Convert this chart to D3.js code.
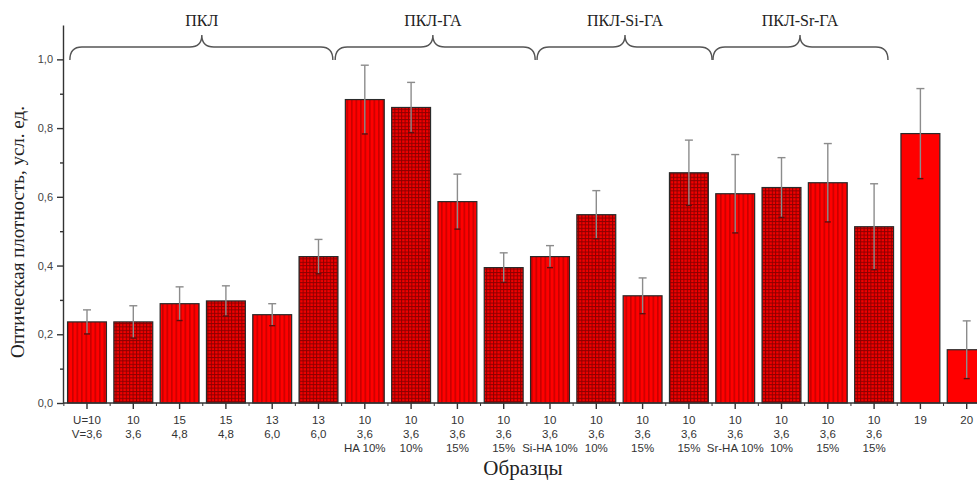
<!DOCTYPE html>
<html>
<head>
<meta charset="utf-8">
<script src="https://cdn.jsdelivr.net/npm/d3@7/dist/d3.min.js"></script>
<style>
  body { margin: 0; background: #fff; }
  svg { display: block; }
</style>
</head>
<body>
<div id="chart"></div>
<script>
// values
var samples = ["s1","s2","s3","s4","s5","s6","s7","s8","s9","s10","s11","s12","s13","s14","s15","s16","s17","s18","s19","s20"];
var density = [0.236,0.236,0.289,0.297,0.257,0.426,0.883,0.860,0.586,0.394,0.426,0.548,0.312,0.670,0.609,0.627,0.641,0.513,0.784,0.155];
var errors  = [0.035,0.047,0.049,0.044,0.032,0.050,0.100,0.073,0.080,0.043,0.032,0.070,0.052,0.095,0.114,0.087,0.114,0.125,0.131,0.084];
var fills   = ["stripe","grid","stripe","grid","stripe","grid","stripe","grid","stripe","grid","stripe","grid","stripe","grid","stripe","grid","stripe","grid","solid","solid"];
var labelU  = ["U=10","10","15","15","13","13","10","10","10","10","10","10","10","10","10","10","10","10","19","20"];
var labelV  = ["V=3,6","3,6","4,8","4,8","6,0","6,0","3,6","3,6","3,6","3,6","3,6","3,6","3,6","3,6","3,6","3,6","3,6","3,6","",""];
var labelC  = ["","","","","","","HA 10%","10%","15%","15%","Si-HA 10%","10%","15%","15%","Sr-HA 10%","10%","15%","15%","",""];
var yMajor  = [0, 0.2, 0.4, 0.6, 0.8, 1.0];
var yMinor  = [0.1, 0.3, 0.5, 0.7, 0.9];
// groups over the bars, brace ends in bar-index units
var groupNames = ["ПКЛ", "ПКЛ-ГА", "ПКЛ-Si-ГА", "ПКЛ-Sr-ГА"];
var groupFrom  = [-0.37, 5.36, 9.72, 13.52];
var groupTo    = [5.31, 9.68, 13.50, 17.30];
var groupPeak  = [2.48, 7.47, 11.62, 15.40];

var W = 977, H = 481;
var svg = d3.select("#chart").append("svg").attr("width", W).attr("height", H);

var x = d3.scaleBand().domain(samples).range([63.85, 989.85]).paddingInner(0.16).paddingOuter(0.08);
var y = d3.scaleLinear().domain([0, 1.1]).range([403, 25]);
var step = x.step();
var xi = function(i){ return x(samples[0]) + x.bandwidth()/2 + i*step; };

var defs = svg.append("defs");
var st = defs.append("pattern").attr("id","stripe").attr("patternUnits","userSpaceOnUse")
  .attr("width",4.5).attr("height",10);
st.append("rect").attr("width",4.5).attr("height",10).attr("fill","#ff0000");
st.append("rect").attr("x",0).attr("width",1.6).attr("height",10).attr("fill","#c80000");
var gr = defs.append("pattern").attr("id","grid").attr("patternUnits","userSpaceOnUse")
  .attr("width",3.4).attr("height",3.4);
gr.append("rect").attr("width",3.4).attr("height",3.4).attr("fill","#f20000");
gr.append("rect").attr("width",1).attr("height",3.4).attr("fill","#8a0000");
gr.append("rect").attr("width",3.4).attr("height",1).attr("fill","#8a0000");

// bars
svg.append("g").selectAll("rect").data(samples).join("rect")
  .attr("x", function(d){ return x(d); })
  .attr("y", function(d,i){ return y(density[i]); })
  .attr("width", x.bandwidth())
  .attr("height", function(d,i){ return y(0) - y(density[i]); })
  .attr("fill", function(d,i){ return fills[i] == "solid" ? "#ff0000" : "url(#" + fills[i] + ")"; })
  .attr("stroke", "#2a2a2a").attr("stroke-width", 1.2);

// error bars
var eb = svg.append("g").attr("stroke", "#8c8c8c").attr("stroke-width", 1.4);
samples.forEach(function(d,i){
  var cx = x(d) + x.bandwidth()/2;
  eb.append("line").attr("x1",cx).attr("x2",cx)
    .attr("y1", y(density[i]+errors[i])).attr("y2", y(density[i]-errors[i]));
  eb.append("line").attr("x1",cx-4).attr("x2",cx+4)
    .attr("y1", y(density[i]+errors[i])).attr("y2", y(density[i]+errors[i]));
  eb.append("line").attr("x1",cx-3).attr("x2",cx+3).attr("stroke","#5a1010")
    .attr("y1", y(density[i]-errors[i])).attr("y2", y(density[i]-errors[i]));
});

// y axis
var fmt = function(d){ return d3.format(".1f")(d).replace(".", ","); };
var ya = svg.append("g").attr("transform","translate(63,0)")
  .call(d3.axisLeft(y).tickValues(yMajor).tickFormat(fmt).tickSize(6).tickSizeOuter(0).tickPadding(4));
svg.append("g").attr("transform","translate(63,0)")
  .call(d3.axisLeft(y).tickValues(yMinor).tickFormat("").tickSize(3).tickSizeOuter(0))
  .select(".domain").remove();
ya.selectAll("text").attr("font-family","Liberation Sans, Arial, sans-serif").attr("font-size",11).attr("fill","#444");

// x axis
var xa = svg.append("g").attr("transform","translate(0,403)")
  .call(d3.axisBottom(x).tickFormat("").tickSize(6).tickSizeOuter(0));
xa.select(".domain").attr("d","M63,0H977");
xa.selectAll(".tick").each(function(d,i){
  var t = d3.select(this).append("text").attr("fill","#333")
    .attr("font-family","Liberation Sans, Arial, sans-serif").attr("font-size",11.5)
    .attr("text-anchor","middle");
  t.append("tspan").attr("x",0).attr("y",21).text(labelU[i]);
  t.append("tspan").attr("x",0).attr("y",35).text(labelV[i]);
  t.append("tspan").attr("x",0).attr("y",49).text(labelC[i]);
});
svg.append("g").attr("stroke","#333").selectAll("line").data(d3.range(samples.length))
  .join("line")
  .attr("x1", function(i){ return x(samples[i]) - step*0.08; })
  .attr("x2", function(i){ return x(samples[i]) - step*0.08; })
  .attr("y1", 403).attr("y2", 406);
svg.selectAll(".domain, .tick line").attr("stroke","#333").attr("stroke-width",1.4);

// axis titles
svg.append("text").attr("transform","translate(24,232) rotate(-90)")
  .attr("text-anchor","middle").attr("font-family","Liberation Serif, Times New Roman, serif")
  .attr("font-size",19).attr("fill","#222").text("Оптическая плотность, усл. ед.");
svg.append("text").attr("x",523).attr("y",475).attr("text-anchor","middle")
  .attr("font-family","Liberation Serif, Times New Roman, serif")
  .attr("font-size",21).attr("fill","#222").text("Образцы");

// group braces
var brace = svg.append("g").attr("fill","none").attr("stroke","#555").attr("stroke-width",1.4);
groupNames.forEach(function(name,g){
  var a = xi(groupFrom[g]), b = xi(groupTo[g]), m = xi(groupPeak[g]);
  var yEnd = 60, yMid = 47, yTop = 35, r = 12;
  var p = "M" + a + "," + yEnd +
    "Q" + a + "," + yMid + " " + (a+r) + "," + yMid +
    "L" + (m-r) + "," + yMid +
    "Q" + m + "," + yMid + " " + m + "," + yTop +
    "Q" + m + "," + yMid + " " + (m+r) + "," + yMid +
    "L" + (b-r) + "," + yMid +
    "Q" + b + "," + yMid + " " + b + "," + yEnd;
  brace.append("path").attr("d", p);
  svg.append("text").attr("x", m).attr("y", 26).attr("text-anchor","middle")
    .attr("font-family","Liberation Serif, Times New Roman, serif")
    .attr("font-size",16).attr("fill","#222").text(name);
});
</script>
</body>
</html>
